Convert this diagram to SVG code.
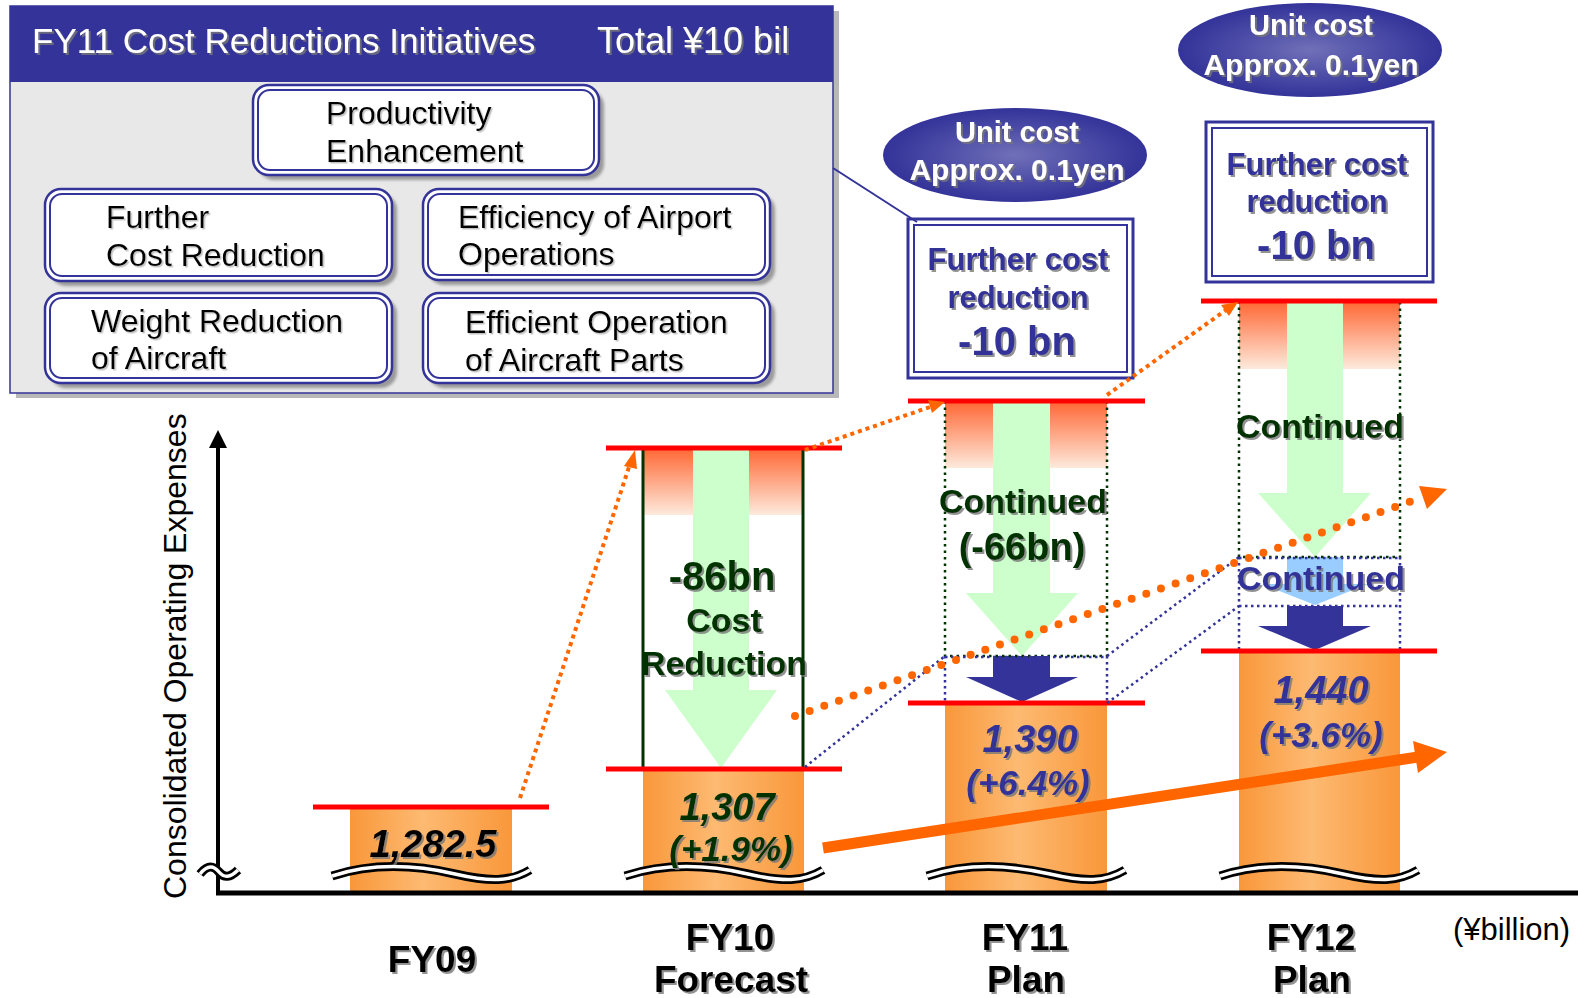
<svg xmlns="http://www.w3.org/2000/svg" width="1578" height="998" viewBox="0 0 1578 998">
<style>
.t{font-family:"Liberation Sans",Arial,sans-serif}
.b{font-weight:bold}
.i{font-style:italic}
.wt{fill:#fff}
.bl{fill:#333399}
.gr{fill:#003300}
.k{fill:#000}
.sh{filter:url(#ts)}
.shl{filter:url(#tsl)}
.bx{fill:#fff;stroke:#333399;stroke-width:2.5}
.bxi{fill:none;stroke:#333399;stroke-width:2}
.bsh{fill:#9a9a9a;filter:url(#bs)}
.bar{fill:url(#barg)}
.top{fill:url(#topg)}
.red{stroke:#ff0000;stroke-width:5}
.gdot{stroke:#003300;stroke-width:2.5;stroke-dasharray:2.5 4;fill:none}
.bdot{stroke:#333399;stroke-width:2.5;stroke-dasharray:2.5 3.5;fill:none}
.odot{stroke:#ff6600;stroke-width:4;stroke-dasharray:4 4;fill:none}
.wvb{stroke:#000;stroke-width:9;fill:none}
.wvw{stroke:#fff;stroke-width:3.5;fill:none}
</style>
<defs>
<filter id="ts" x="-10%" y="-20%" width="130%" height="150%"><feDropShadow dx="2" dy="2" stdDeviation="0.6" flood-color="#777" flood-opacity="0.8"/></filter>
<filter id="tsl" x="-10%" y="-20%" width="130%" height="150%"><feDropShadow dx="1.5" dy="1.5" stdDeviation="0.6" flood-color="#999" flood-opacity="0.6"/></filter>
<filter id="bs" x="-5%" y="-10%" width="115%" height="130%"><feGaussianBlur stdDeviation="1.5"/></filter>
<linearGradient id="barg" x1="0" y1="0" x2="1" y2="0"><stop offset="0" stop-color="#f9973a"/><stop offset="0.45" stop-color="#fdba72"/><stop offset="1" stop-color="#f9973a"/></linearGradient>
<linearGradient id="topg" x1="0" y1="0" x2="0" y2="1"><stop offset="0" stop-color="#ff6633"/><stop offset="1" stop-color="#fdeadc"/></linearGradient>
<radialGradient id="eg" cx="0.5" cy="0.5" r="0.5"><stop offset="0" stop-color="#7070b8"/><stop offset="0.6" stop-color="#4a4aa6"/><stop offset="1" stop-color="#333399"/></radialGradient>
</defs>
<rect width="1578" height="998" fill="#fff"/>

<g id="panel">
<rect x="16" y="11" width="823" height="387" fill="#b8b8b8"/>
<rect x="10" y="6" width="823" height="387" fill="#e8e8e8" stroke="#333399" stroke-width="1.5"/>
<rect x="10" y="6" width="823" height="76" fill="#333399"/>
<text class="t wt sh" x="32" y="53" font-size="35">FY11 Cost Reductions Initiatives</text>
<text class="t wt sh" x="597" y="53" font-size="36">Total ¥10 bil</text>
</g>
<g id="box-productivity">
<rect class="bsh" x="258" y="90" width="346" height="90" rx="16"/>
<rect class="bx" x="253" y="85" width="346" height="90" rx="16"/>
<rect class="bxi" x="258" y="90" width="336" height="80" rx="12"/>
<text class="t k shl" x="326" y="124" font-size="32">Productivity</text>
<text class="t k shl" x="326" y="162" font-size="32">Enhancement</text>
</g>
<g id="box-further">
<rect class="bsh" x="50" y="194" width="347" height="92" rx="16"/>
<rect class="bx" x="45" y="189" width="347" height="92" rx="16"/>
<rect class="bxi" x="50" y="194" width="337" height="82" rx="12"/>
<text class="t k shl" x="106" y="228" font-size="32">Further</text>
<text class="t k shl" x="106" y="266" font-size="32">Cost Reduction</text>
</g>
<g id="box-airport">
<rect class="bsh" x="428" y="194" width="347" height="91" rx="16"/>
<rect class="bx" x="423" y="189" width="347" height="91" rx="16"/>
<rect class="bxi" x="428" y="194" width="337" height="81" rx="12"/>
<text class="t k shl" x="458" y="228" font-size="32">Efficiency of Airport</text>
<text class="t k shl" x="458" y="265" font-size="32">Operations</text>
</g>
<g id="box-weight">
<rect class="bsh" x="50" y="298" width="347" height="90" rx="16"/>
<rect class="bx" x="45" y="293" width="347" height="90" rx="16"/>
<rect class="bxi" x="50" y="298" width="337" height="80" rx="12"/>
<text class="t k shl" x="91" y="332" font-size="32">Weight Reduction</text>
<text class="t k shl" x="91" y="369" font-size="32">of Aircraft</text>
</g>
<g id="box-parts">
<rect class="bsh" x="428" y="298" width="347" height="90" rx="16"/>
<rect class="bx" x="423" y="293" width="347" height="90" rx="16"/>
<rect class="bxi" x="428" y="298" width="337" height="80" rx="12"/>
<text class="t k shl" x="465" y="333" font-size="32">Efficient Operation</text>
<text class="t k shl" x="465" y="371" font-size="32">of Aircraft Parts</text>
</g>

<g id="ellipse-fy11">
<ellipse cx="1015" cy="155" rx="132" ry="47" fill="url(#eg)"/>
<text class="t b wt sh" x="1017" y="142" font-size="29" text-anchor="middle">Unit cost</text>
<text class="t b wt sh" x="1017" y="180" font-size="30" text-anchor="middle">Approx. 0.1yen</text>
</g>
<g id="ellipse-fy12">
<ellipse cx="1310" cy="50" rx="132" ry="47" fill="url(#eg)"/>
<text class="t b wt sh" x="1311" y="35" font-size="29" text-anchor="middle">Unit cost</text>
<text class="t b wt sh" x="1311" y="75" font-size="30" text-anchor="middle">Approx. 0.1yen</text>
</g>
<g id="further-fy11">
<rect x="908" y="219" width="225" height="159" fill="#fff" stroke="#333399" stroke-width="3"/>
<rect x="914" y="225" width="213" height="147" fill="none" stroke="#333399" stroke-width="2"/>
<text class="t b bl sh" x="1018" y="270" font-size="31" text-anchor="middle">Further cost</text>
<text class="t b bl sh" x="1018" y="308" font-size="31" text-anchor="middle">reduction</text>
<text class="t b bl sh" x="1017" y="355" font-size="40" text-anchor="middle">-10 bn</text>
</g>
<g id="further-fy12">
<rect x="1206" y="122" width="227" height="160" fill="#fff" stroke="#333399" stroke-width="3"/>
<rect x="1212" y="128" width="215" height="148" fill="none" stroke="#333399" stroke-width="2"/>
<text class="t b bl sh" x="1317" y="175" font-size="31" text-anchor="middle">Further cost</text>
<text class="t b bl sh" x="1317" y="212" font-size="31" text-anchor="middle">reduction</text>
<text class="t b bl sh" x="1316" y="259" font-size="40" text-anchor="middle">-10 bn</text>
</g>

<g id="fy09">
<rect class="bar" x="350" y="807" width="162" height="86"/>
<line class="red" x1="313" y1="807" x2="549" y2="807"/>
<path class="wvb" d="M332,876 C375,862 420,866 455,874 S510,882 530,870"/>
<path class="wvw" d="M332,876 C375,862 420,866 455,874 S510,882 530,870"/>
<text class="t b i k sh" x="433" y="857" font-size="38" text-anchor="middle">1,282.5</text>
</g>
<g id="fy10">
<rect class="bar" x="643" y="769" width="161" height="124"/>
<rect class="top" x="643" y="448" width="160" height="67"/>
<polygon points="693,448 749,448 749,690 777,690 721,768 665,690 693,690" fill="#ccffcc"/>
<rect x="643" y="448" width="160" height="321" fill="none" stroke="#003300" stroke-width="3"/>
<line class="red" x1="606" y1="448" x2="842" y2="448"/>
<line class="red" x1="606" y1="769" x2="842" y2="769"/>
<path class="wvb" d="M625,876 C668,862 713,866 748,874 S803,882 823,870"/>
<path class="wvw" d="M625,876 C668,862 713,866 748,874 S803,882 823,870"/>
<text class="t b gr sh" x="722" y="590" font-size="40" text-anchor="middle">-86bn</text>
<text class="t b gr sh" x="724" y="632" font-size="34" text-anchor="middle">Cost</text>
<text class="t b gr sh" x="724" y="675" font-size="34" text-anchor="middle">Reduction</text>
<text class="t b i gr sh" x="727" y="820" font-size="38" text-anchor="middle">1,307</text>
<text class="t b i gr sh" x="731" y="861" font-size="35" text-anchor="middle">(+1.9%)</text>
</g>
<g id="fy11">
<rect class="bar" x="945" y="703" width="162" height="190"/>
<rect class="top" x="945" y="401" width="162" height="67"/>
<polygon points="993,401 1050,401 1050,593 1078,593 1022,656 966,593 993,593" fill="#ccffcc"/>
<polygon points="993,656 1050,656 1050,677 1078,677 1022,702 966,677 993,677" fill="#333399"/>
<path class="gdot" d="M945,401 V656 H1107 V401"/>
<path class="bdot" d="M945,656 V703 M1107,656 V703 M945,657 H1107"/>
<line class="red" x1="908" y1="401" x2="1145" y2="401"/>
<line class="red" x1="908" y1="703" x2="1145" y2="703"/>
<path class="wvb" d="M927,876 C970,862 1015,866 1050,874 S1105,882 1125,870"/>
<path class="wvw" d="M927,876 C970,862 1015,866 1050,874 S1105,882 1125,870"/>
<text class="t b gr sh" x="1023" y="513" font-size="34" text-anchor="middle">Continued</text>
<text class="t b gr sh" x="1022" y="560" font-size="38" text-anchor="middle">(-66bn)</text>
<text class="t b i bl sh" x="1030" y="752" font-size="38" text-anchor="middle">1,390</text>
<text class="t b i bl sh" x="1028" y="795" font-size="35" text-anchor="middle">(+6.4%)</text>
</g>
<g id="fy12">
<rect class="bar" x="1239" y="651" width="161" height="242"/>
<rect class="top" x="1239" y="301" width="161" height="68"/>
<polygon points="1287,301 1343,301 1343,493 1371,493 1315,557 1258,493 1287,493" fill="#ccffcc"/>
<polygon points="1287,557 1343,557 1343,584 1368,584 1315,605 1262,584 1287,584" fill="#99ccff"/>
<polygon points="1287,606 1343,606 1343,626 1371,626 1315,650 1258,626 1287,626" fill="#333399"/>
<path class="gdot" d="M1239,301 V557 H1400 V301"/>
<path class="bdot" d="M1239,557 V651 M1400,557 V651 M1239,558 H1400 M1239,606 H1400"/>
<line class="red" x1="1201" y1="301" x2="1437" y2="301"/>
<line class="red" x1="1201" y1="651" x2="1437" y2="651"/>
<path class="wvb" d="M1220,876 C1263,862 1308,866 1343,874 S1398,882 1418,870"/>
<path class="wvw" d="M1220,876 C1263,862 1308,866 1343,874 S1398,882 1418,870"/>
<text class="t b gr sh" x="1320" y="438" font-size="34" text-anchor="middle">Continued</text>
<text class="t b bl sh" x="1321" y="590" font-size="34" text-anchor="middle">Continued</text>
<text class="t b i bl sh" x="1321" y="703" font-size="38" text-anchor="middle">1,440</text>
<text class="t b i bl sh" x="1321" y="747" font-size="35" text-anchor="middle">(+3.6%)</text>
</g>

<g id="axes">
<line x1="218" y1="893" x2="218" y2="445" stroke="#000" stroke-width="4"/>
<polygon points="218,430 209,448 227,448" fill="#000"/>
<line x1="216" y1="893" x2="1578" y2="893" stroke="#000" stroke-width="5"/>
<path class="wvb" d="M200,874 c8,-10 14,-8 19,-2 s11,6 19,-2"/>
<path class="wvw" d="M200,874 c8,-10 14,-8 19,-2 s11,6 19,-2"/>
<text class="t k" transform="translate(186,899) rotate(-90)" font-size="32">Consolidated Operating Expenses</text>
<text class="t b k sh" x="432" y="972" font-size="37" text-anchor="middle">FY09</text>
<text class="t b k sh" x="730" y="950" font-size="37" text-anchor="middle">FY10</text>
<text class="t b k sh" x="731" y="992" font-size="37" text-anchor="middle">Forecast</text>
<text class="t b k sh" x="1025" y="950" font-size="37" text-anchor="middle">FY11</text>
<text class="t b k sh" x="1026" y="992" font-size="37" text-anchor="middle">Plan</text>
<text class="t b k sh" x="1311" y="950" font-size="37" text-anchor="middle">FY12</text>
<text class="t b k sh" x="1312" y="992" font-size="37" text-anchor="middle">Plan</text>
<text class="t k" x="1453" y="940" font-size="31">(¥billion)</text>
</g>

<g id="connectors">
<line x1="833" y1="168" x2="917" y2="222" stroke="#333399" stroke-width="2"/>
<line class="odot" x1="520" y1="798" x2="630" y2="464"/>
<polygon points="635,450 624,466 637,469" fill="#ff6600"/>
<line class="odot" x1="805" y1="450" x2="930" y2="407"/>
<polygon points="945,402 928,400 932,413" fill="#ff6600"/>
<line class="odot" x1="1107" y1="395" x2="1226" y2="310"/>
<polygon points="1238,302 1221,305 1229,316" fill="#ff6600"/>
<line class="bdot" x1="805" y1="767" x2="945" y2="656"/>
<line class="bdot" x1="1107" y1="656" x2="1239" y2="557"/>
<line class="bdot" x1="1107" y1="703" x2="1239" y2="606"/>
<line x1="795" y1="716" x2="1418" y2="499" stroke="#ff6600" stroke-width="8" stroke-linecap="round" stroke-dasharray="0 15.5"/>
<polygon points="1447,489 1427,509 1419,486" fill="#ff6600"/>
<line x1="823" y1="848" x2="1418" y2="757" stroke="#ff6600" stroke-width="11"/>
<polygon points="1447,752 1418,773 1413,741" fill="#ff6600"/>
</g>
</svg>
